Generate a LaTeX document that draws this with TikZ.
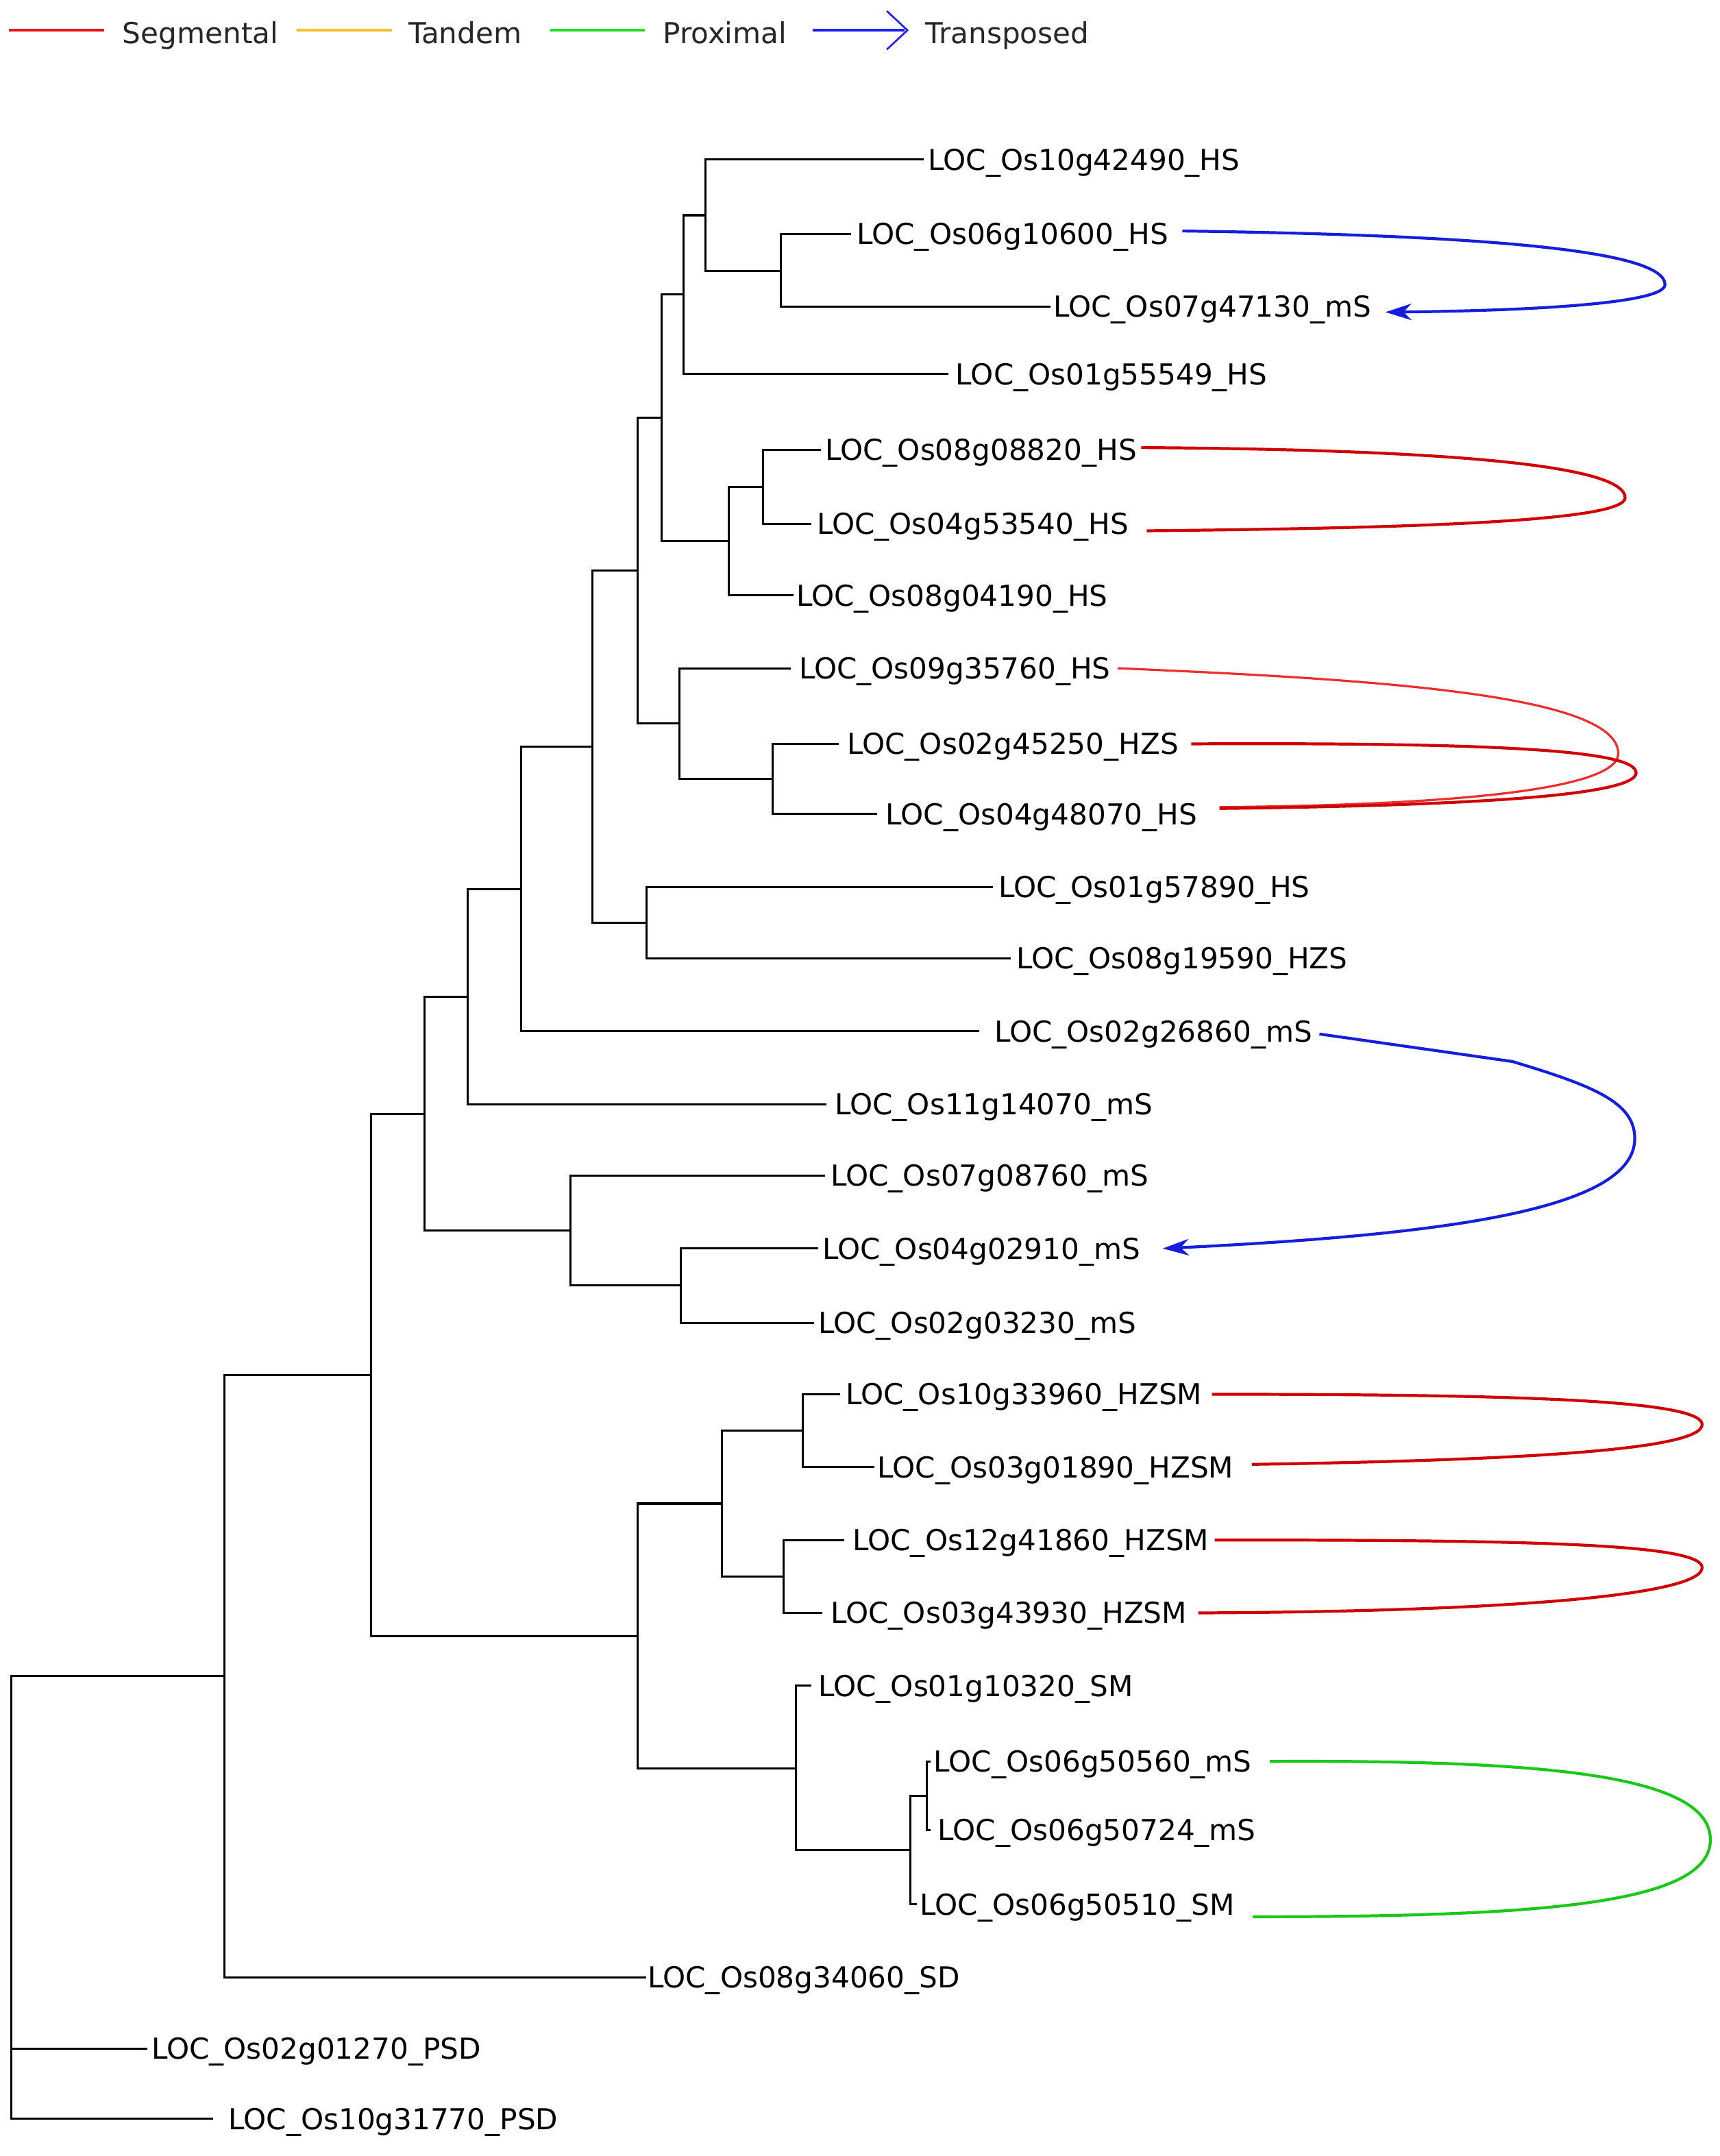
\documentclass[tikz,border=0pt]{standalone}
\usepackage{fontspec}
\setmainfont{DejaVu Sans}
\usetikzlibrary{arrows.meta}
\definecolor{segred}{RGB}{208,0,0}
\definecolor{segredlt}{RGB}{238,45,45}
\definecolor{legred}{RGB}{232,20,28}
\definecolor{tandemyel}{RGB}{245,195,40}
\definecolor{proxgreen}{RGB}{25,200,25}
\definecolor{leggreen}{RGB}{35,225,35}
\definecolor{transblue}{RGB}{20,30,220}
\definecolor{legblue}{RGB}{30,30,250}
\newcommand\leafnode[5]{\node[leaf] (#1) at (#2,#4) {\hspace*{\dimexpr #3bp-#2bp\relax}#5};}
\begin{document}
\begin{tikzpicture}[x=1bp,y=-1bp,
  leaf/.style={anchor=west, inner sep=0pt, font=\fontsize{21bp}{25bp}\selectfont,
    text height=20.6bp, text depth=5.2bp},
  legtext/.style={leaf, text=black!85},
  branch/.style={draw=black, line width=1.5bp, line join=miter},
  dup/.style={line width=2.1bp},
  tarrow/.style={dup, transblue, -{Stealth[length=19bp,width=12bp,inset=6bp]}},
  legline/.style={line width=2.2bp}
]
\useasboundingbox (0,0) rectangle (1251,1568);

% ---------------- legend ----------------
\draw[legline, legred] (6.5,22) -- (76,22);
\node[legtext] (lgseg) at (89,24) {Segmental};
\draw[legline, tandemyel] (216,22) -- (285,22);
\node[legtext] (lgtan) at (297,24) {Tandem};
\draw[legline, leggreen] (400,22) -- (469,22);
\node[legtext] (lgprox) at (482,24) {Proximal};
\draw[legline, legblue] (591,22) -- (658,22);
\draw[legblue, line width=1.3bp] (645,8) -- (660,22) -- (645,36);
\node[legtext] (lgtrans) at (673,24) {Transposed};

% ---------------- leaves ----------------
\leafnode{l1}{672}{675}{116}{LOC\_Os10g42490\_HS}
\leafnode{l2}{619}{623}{170}{LOC\_Os06g10600\_HS}
\leafnode{l3}{764}{766}{223}{LOC\_Os07g47130\_mS}
\leafnode{l4}{690}{695}{272}{LOC\_Os01g55549\_HS}
\leafnode{l5}{597}{600}{327}{LOC\_Os08g08820\_HS}
\leafnode{l6}{590}{594}{381}{LOC\_Os04g53540\_HS}
\leafnode{l7}{577}{579}{433}{LOC\_Os08g04190\_HS}
\leafnode{l8}{575}{581}{486}{LOC\_Os09g35760\_HS}
\leafnode{l9}{610}{616}{541}{LOC\_Os02g45250\_HZS}
\leafnode{l10}{638}{644}{592}{LOC\_Os04g48070\_HS}
\leafnode{l11}{722}{726}{645}{LOC\_Os01g57890\_HS}
\leafnode{l12}{735}{739}{697}{LOC\_Os08g19590\_HZS}
\leafnode{l13}{712}{723}{750}{LOC\_Os02g26860\_mS}
\leafnode{l14}{601}{607}{803}{LOC\_Os11g14070\_mS}
\leafnode{l15}{600}{604}{855}{LOC\_Os07g08760\_mS}
\leafnode{l16}{595}{598}{908}{LOC\_Os04g02910\_mS}
\leafnode{l17}{592}{595}{962}{LOC\_Os02g03230\_mS}
\leafnode{l18}{611}{615}{1014}{LOC\_Os10g33960\_HZSM}
\leafnode{l19}{636}{638}{1067}{LOC\_Os03g01890\_HZSM}
\leafnode{l20}{614}{620}{1120}{LOC\_Os12g41860\_HZSM}
\leafnode{l21}{598}{604}{1173}{LOC\_Os03g43930\_HZSM}
\leafnode{l22}{590}{595}{1226}{LOC\_Os01g10320\_SM}
\leafnode{l23}{677}{679}{1281}{LOC\_Os06g50560\_mS}
\leafnode{l24}{677}{682}{1331}{LOC\_Os06g50724\_mS}
\leafnode{l25}{667}{669}{1385}{LOC\_Os06g50510\_SM}
\leafnode{l26}{470}{471}{1438}{LOC\_Os08g34060\_SD}
\leafnode{l27}{107}{110}{1490}{LOC\_Os02g01270\_PSD}
\leafnode{l28}{155}{166}{1541}{LOC\_Os10g31770\_PSD}

% ---------------- internal nodes ----------------
\coordinate (nA) at (568,197);
\coordinate (nB) at (513,156.5);
\coordinate (nC) at (497,214);
\coordinate (nD) at (555,354);
\coordinate (nE) at (530,393.5);
\coordinate (nF) at (481,304);
\coordinate (nG) at (562,566.5);
\coordinate (nH) at (494,526);
\coordinate (nI) at (464,415);
\coordinate (nJ) at (470,671);
\coordinate (nK) at (431,543);
\coordinate (nL) at (379,646.5);
\coordinate (nM) at (340,725);
\coordinate (nN) at (495,935);
\coordinate (nO) at (415,895);
\coordinate (nP) at (309,810);
\coordinate (nQ) at (584,1040.5);
\coordinate (nR) at (570,1146.5);
\coordinate (nS) at (525,1093.5);
\coordinate (nT) at (674,1306);
\coordinate (nU) at (662,1345.5);
\coordinate (nV) at (579,1286);
\coordinate (nW) at (464,1190);
\coordinate (nX) at (270,1000);
\coordinate (nY) at (163,1219);
\coordinate (nRoot) at (8,1380);

% ---------------- branches ----------------
\path[branch] (nA) |- (l2) (nA) |- (l3);
\path[branch] (nB) |- (l1) (nB) |- (nA);
\path[branch] (nC) |- (nB) (nC) |- (l4);
\path[branch] (nD) |- (l5) (nD) |- (l6);
\path[branch] (nE) |- (nD) (nE) |- (l7);
\path[branch] (nF) |- (nC) (nF) |- (nE);
\path[branch] (nG) |- (l9) (nG) |- (l10);
\path[branch] (nH) |- (l8) (nH) |- (nG);
\path[branch] (nI) |- (nF) (nI) |- (nH);
\path[branch] (nJ) |- (l11) (nJ) |- (l12);
\path[branch] (nK) |- (nI) (nK) |- (nJ);
\path[branch] (nL) |- (nK) (nL) |- (l13);
\path[branch] (nM) |- (nL) (nM) |- (l14);
\path[branch] (nN) |- (l16) (nN) |- (l17);
\path[branch] (nO) |- (l15) (nO) |- (nN);
\path[branch] (nP) |- (nM) (nP) |- (nO);
\path[branch] (nQ) |- (l18) (nQ) |- (l19);
\path[branch] (nR) |- (l20) (nR) |- (l21);
\path[branch] (nS) |- (nQ) (nS) |- (nR);
\path[branch] (nT) |- (l23) (nT) |- (l24);
\path[branch] (nU) |- (nT) (nU) |- (l25);
\path[branch] (nV) |- (l22) (nV) |- (nU);
\path[branch] (nW) |- (nS) (nW) |- (nV);
\path[branch] (nX) |- (nP) (nX) |- (nW);
\path[branch] (nY) |- (nX) (nY) |- (l26);
\path[branch] (nRoot) |- (nY) (nRoot) |- (l27) (nRoot) |- (l28);

% ---------------- duplication connectors ----------------
% transposed
\draw[tarrow] ([xshift=10bp,yshift=2bp]l2.east)
  .. controls (1080,171) and (1211,182) .. (1211,207)
  .. controls (1211,221) and (1110,226) .. ([xshift=10bp,yshift=-4bp]l3.east);
\draw[tarrow] ([xshift=5bp,yshift=-2bp]l13.east) -- (1100,772)
  .. controls (1160,790) and (1189,802) .. (1189,828)
  .. controls (1189,880) and (1050,898) .. ([xshift=16bp]l16.east);
% segmental
\draw[dup, segred] ([xshift=3bp,yshift=1.5bp]l5.east)
  .. controls (1050,327) and (1182,338) .. (1182,362)
  .. controls (1182,378) and (1050,384) .. ([xshift=13bp,yshift=-5bp]l6.east);
\draw[line width=1.6bp, segredlt] ([xshift=5bp]l8.east)
  .. controls (1000,494) and (1177,505) .. (1177,548)
  .. controls (1177,580) and (1000,586) .. ([xshift=16bp,yshift=5bp]l10.east);
\draw[dup, segred] ([xshift=9bp]l9.east)
  .. controls (1080,540) and (1190,545) .. (1190,562)
  .. controls (1190,580) and (1050,586) .. ([xshift=16bp,yshift=4bp]l10.east);
\draw[dup, segred] ([xshift=7bp]l18.east)
  .. controls (1100,1014) and (1238,1018) .. (1238,1036)
  .. controls (1238,1055) and (1100,1062) .. ([xshift=13bp,yshift=2bp]l19.east);
\draw[dup, segred] ([xshift=4bp]l20.east)
  .. controls (1100,1120) and (1238,1122) .. (1238,1140)
  .. controls (1238,1160) and (1100,1172) .. ([xshift=8bp]l21.east);
% proximal
\draw[dup, proxgreen] ([xshift=13bp]l23.east)
  .. controls (1120,1280) and (1244,1290) .. (1244,1338)
  .. controls (1244,1385) and (1120,1394) .. ([xshift=13bp,yshift=-9bp]l25.east);
\end{tikzpicture}
\end{document}
